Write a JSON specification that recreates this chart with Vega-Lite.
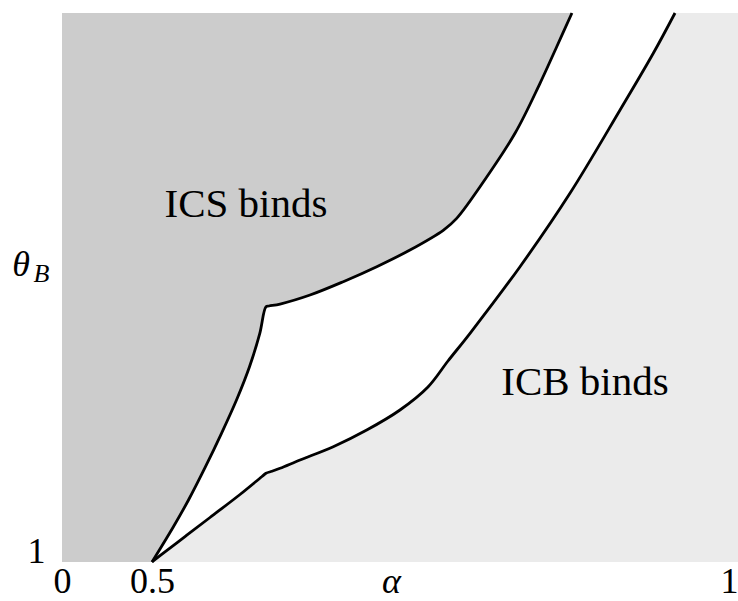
{
  "$schema": "https://vega.github.io/schema/vega-lite/v6.json",
  "width": 676,
  "height": 549,
  "autosize": {"type": "none"},
  "padding": {"left": 62, "top": 13, "right": 0, "bottom": 39},
  "background": "white",
  "config": {"view": {"fill": "#ebebeb", "stroke": null}},
  "datasets": {
    "left": [
      {"a": 0.5, "th": 1.0},
      {"a": 0.51842, "th": 1.0643},
      {"a": 0.53141, "th": 1.1129},
      {"a": 0.54604, "th": 1.1736},
      {"a": 0.55981, "th": 1.2344},
      {"a": 0.57272, "th": 1.2951},
      {"a": 0.58391, "th": 1.3557},
      {"a": 0.59277, "th": 1.4166},
      {"a": 0.59811, "th": 1.4650},
      {"a": 0.60069, "th": 1.4663},
      {"a": 0.6102, "th": 1.4699},
      {"a": 0.6360, "th": 1.4863},
      {"a": 0.6646, "th": 1.5106},
      {"a": 0.6934, "th": 1.5379},
      {"a": 0.7220, "th": 1.5683},
      {"a": 0.7509, "th": 1.6047},
      {"a": 0.7622, "th": 1.6260},
      {"a": 0.7823, "th": 1.6836},
      {"a": 0.8124, "th": 1.7809},
      {"a": 0.8339, "th": 1.8719},
      {"a": 0.8483, "th": 1.9386},
      {"a": 0.8614, "th": 2.0}
    ],
    "right": [
      {"a": 0.5, "th": 1.0},
      {"a": 0.50861, "th": 1.01421},
      {"a": 0.52840, "th": 1.04627},
      {"a": 0.54991, "th": 1.08106},
      {"a": 0.57573, "th": 1.12295},
      {"a": 0.59466, "th": 1.15574},
      {"a": 0.59811, "th": 1.16157},
      {"a": 0.60327, "th": 1.16521},
      {"a": 0.6102, "th": 1.1707},
      {"a": 0.6274, "th": 1.1858},
      {"a": 0.6560, "th": 1.2100},
      {"a": 0.6848, "th": 1.2404},
      {"a": 0.7134, "th": 1.2769},
      {"a": 0.7375, "th": 1.3188},
      {"a": 0.7547, "th": 1.3661},
      {"a": 0.7737, "th": 1.4166},
      {"a": 0.8167, "th": 1.5379},
      {"a": 0.8597, "th": 1.6716},
      {"a": 0.9028, "th": 1.8233},
      {"a": 0.9314, "th": 1.9266},
      {"a": 0.9501, "th": 2.0}
    ],
    "labels": [
      {"t": "ICS binds", "a": 0.5809, "th": 1.6503},
      {"t": "ICB binds", "a": 0.8726, "th": 1.3260}
    ]
  },
  "layer": [
    {
      "data": {"name": "right"},
      "mark": {"type": "area", "orient": "horizontal", "color": "white", "interpolate": "catmull-rom"},
      "encoding": {
        "y": {"field": "th", "type": "quantitative", "scale": {"domain": [1, 2], "nice": false, "zero": false},
          "axis": {"values": [1], "format": "~g", "title": null, "domain": false, "ticks": false, "tickSize": 0, "grid": false,
            "labelFont": "Liberation Serif", "labelFontSize": 36, "labelColor": "black", "labelBaseline": "alphabetic", "labelPadding": 17}},
        "x": {"field": "a", "type": "quantitative",
          "scale": {"domain": [0, 0.5, 1], "range": [0, 90, 671], "nice": false, "zero": false},
          "axis": {"values": [0, 0.5, 1], "format": "~g", "domain": false, "ticks": false, "tickSize": 0, "grid": false,
            "labelFont": "Liberation Serif", "labelFontSize": 36, "labelColor": "black", "labelBaseline": "bottom", "labelPadding": 38.5,
            "labelAlign": {"condition": {"test": "datum.value == 1", "value": "right"}, "value": "center"},
            "labelOffset": {"condition": {"test": "datum.value == 1", "value": 5}, "value": 0},
            "labelOverlap": false, "labelFlush": false, "labelBound": false,
            "title": "α", "titleFont": "Liberation Serif", "titleFontStyle": "italic", "titleFontWeight": "normal", "titleFontSize": 36,
            "titleColor": "black", "titleX": 329, "titleY": 38.5, "titleBaseline": "bottom"}},
        "x2": {"datum": 0}
      }
    },
    {
      "data": {"name": "left"},
      "mark": {"type": "area", "orient": "horizontal", "color": "#cccccc", "interpolate": "catmull-rom"},
      "encoding": {
        "y": {"field": "th", "type": "quantitative"},
        "x": {"field": "a", "type": "quantitative"},
        "x2": {"datum": 0}
      }
    },
    {
      "data": {"name": "left"},
      "mark": {"type": "line", "color": "black", "strokeWidth": 2.8, "strokeJoin": "round", "interpolate": "catmull-rom"},
      "encoding": {
        "y": {"field": "th", "type": "quantitative"},
        "x": {"field": "a", "type": "quantitative"},
        "order": {"field": "th"}
      }
    },
    {
      "data": {"name": "right"},
      "mark": {"type": "line", "color": "black", "strokeWidth": 2.8, "strokeJoin": "round", "interpolate": "catmull-rom"},
      "encoding": {
        "y": {"field": "th", "type": "quantitative"},
        "x": {"field": "a", "type": "quantitative"},
        "order": {"field": "th"}
      }
    },
    {
      "data": {"name": "labels"},
      "mark": {"type": "text", "font": "Liberation Serif", "fontSize": 41, "color": "black", "align": "center", "baseline": "middle"},
      "encoding": {
        "y": {"field": "th", "type": "quantitative"},
        "x": {"field": "a", "type": "quantitative"},
        "text": {"field": "t"}
      }
    },
    {
      "data": {"values": [{"t": "θ", "a": -0.2278, "th": 1.5401}]},
      "mark": {"type": "text", "font": "Liberation Serif", "fontStyle": "italic", "fontSize": 36, "color": "black", "align": "center", "baseline": "middle"},
      "encoding": {
        "y": {"field": "th", "type": "quantitative"},
        "x": {"field": "a", "type": "quantitative"},
        "text": {"field": "t"}
      }
    },
    {
      "data": {"values": [{"t": "B", "a": -0.1139, "th": 1.5246}]},
      "mark": {"type": "text", "font": "Liberation Serif", "fontStyle": "italic", "fontSize": 26, "color": "black", "align": "center", "baseline": "middle"},
      "encoding": {
        "y": {"field": "th", "type": "quantitative"},
        "x": {"field": "a", "type": "quantitative"},
        "text": {"field": "t"}
      }
    },
    {
      "mark": {"type": "rule", "color": "black", "strokeWidth": 3},
      "encoding": {"y": {"datum": 2}}
    },
    {
      "mark": {"type": "rule", "color": "black", "strokeWidth": 3},
      "encoding": {"y": {"datum": 1}}
    },
    {
      "mark": {"type": "rule", "color": "black", "strokeWidth": 3},
      "encoding": {"x": {"datum": 0}}
    }
  ]
}
